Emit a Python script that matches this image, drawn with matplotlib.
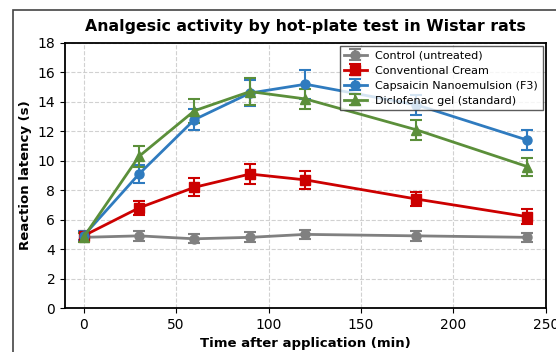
import matplotlib
matplotlib.use("Agg")
import matplotlib.pyplot as plt
from matplotlib.patches import Rectangle

# time points (min)
time_min = [0, 30, 60, 90, 120, 180, 240]

# reaction latency (s), mean and error
control = [4.8, 4.9, 4.7, 4.8, 5.0, 4.9, 4.8]
control_err = [0.3, 0.35, 0.3, 0.35, 0.3, 0.35, 0.3]
cream = [4.9, 6.8, 8.2, 9.1, 8.7, 7.4, 6.2]
cream_err = [0.3, 0.5, 0.6, 0.7, 0.6, 0.45, 0.5]
nano = [4.9, 9.1, 12.8, 14.6, 15.2, 13.8, 11.4]
nano_err = [0.3, 0.6, 0.7, 0.9, 1.0, 0.7, 0.7]
diclo = [4.8, 10.3, 13.4, 14.7, 14.2, 12.1, 9.6]
diclo_err = [0.3, 0.7, 0.8, 0.9, 0.7, 0.7, 0.6]

series = [
    ("Control (untreated)", control, control_err, "#808080", "o"),
    ("Conventional Cream", cream, cream_err, "#cc0000", "s"),
    ("Capsaicin Nanoemulsion (F3)", nano, nano_err, "#2f7bbf", "o"),
    ("Diclofenac gel (standard)", diclo, diclo_err, "#5b8f3a", "^"),
]

fig = plt.figure(figsize=(5.56, 3.52), dpi=100)
ax = fig.add_axes([65 / 556, 1 - 308 / 352, (546 - 65) / 556, (308 - 43) / 352])

for label, vals, errs, color, marker in series:
    ax.errorbar(time_min, vals, yerr=errs, label=label, color=color,
                marker=marker, markersize=6.5, linewidth=2, capsize=4,
                elinewidth=1.5, capthick=1.5)

ax.set_xlim(-10, 250)
ax.set_ylim(0, 18)
ax.set_yticks(range(0, 19, 2))
ax.grid(True, linestyle="--", color="#cccccc", alpha=0.9, linewidth=0.8)
ax.set_axisbelow(True)
for sp in ax.spines.values():
    sp.set_linewidth(1.3)
ax.tick_params(labelsize=10)

ax.set_xlabel("Time after application (min)", fontweight="bold", fontsize=9.5)
ax.set_ylabel("Reaction latency (s)", fontweight="bold", fontsize=9.5)
ax.set_title("Analgesic activity by hot-plate test in Wistar rats",
             fontweight="bold", fontsize=11.3, pad=9)

leg = ax.legend(loc="upper right", fontsize=8, fancybox=False,
                framealpha=0.8, edgecolor="#333333", borderaxespad=0.3,
                handlelength=2.0, labelspacing=0.45)
leg.get_frame().set_linewidth(1.0)

# outer frame of the original (cropped) figure
fig.patches.append(Rectangle((13 / 556, -0.1), 1.2, 1.1 - 10 / 352,
                             transform=fig.transFigure, fill=False,
                             edgecolor="#444444", linewidth=1.2))

fig.savefig("out.png", dpi=100)
